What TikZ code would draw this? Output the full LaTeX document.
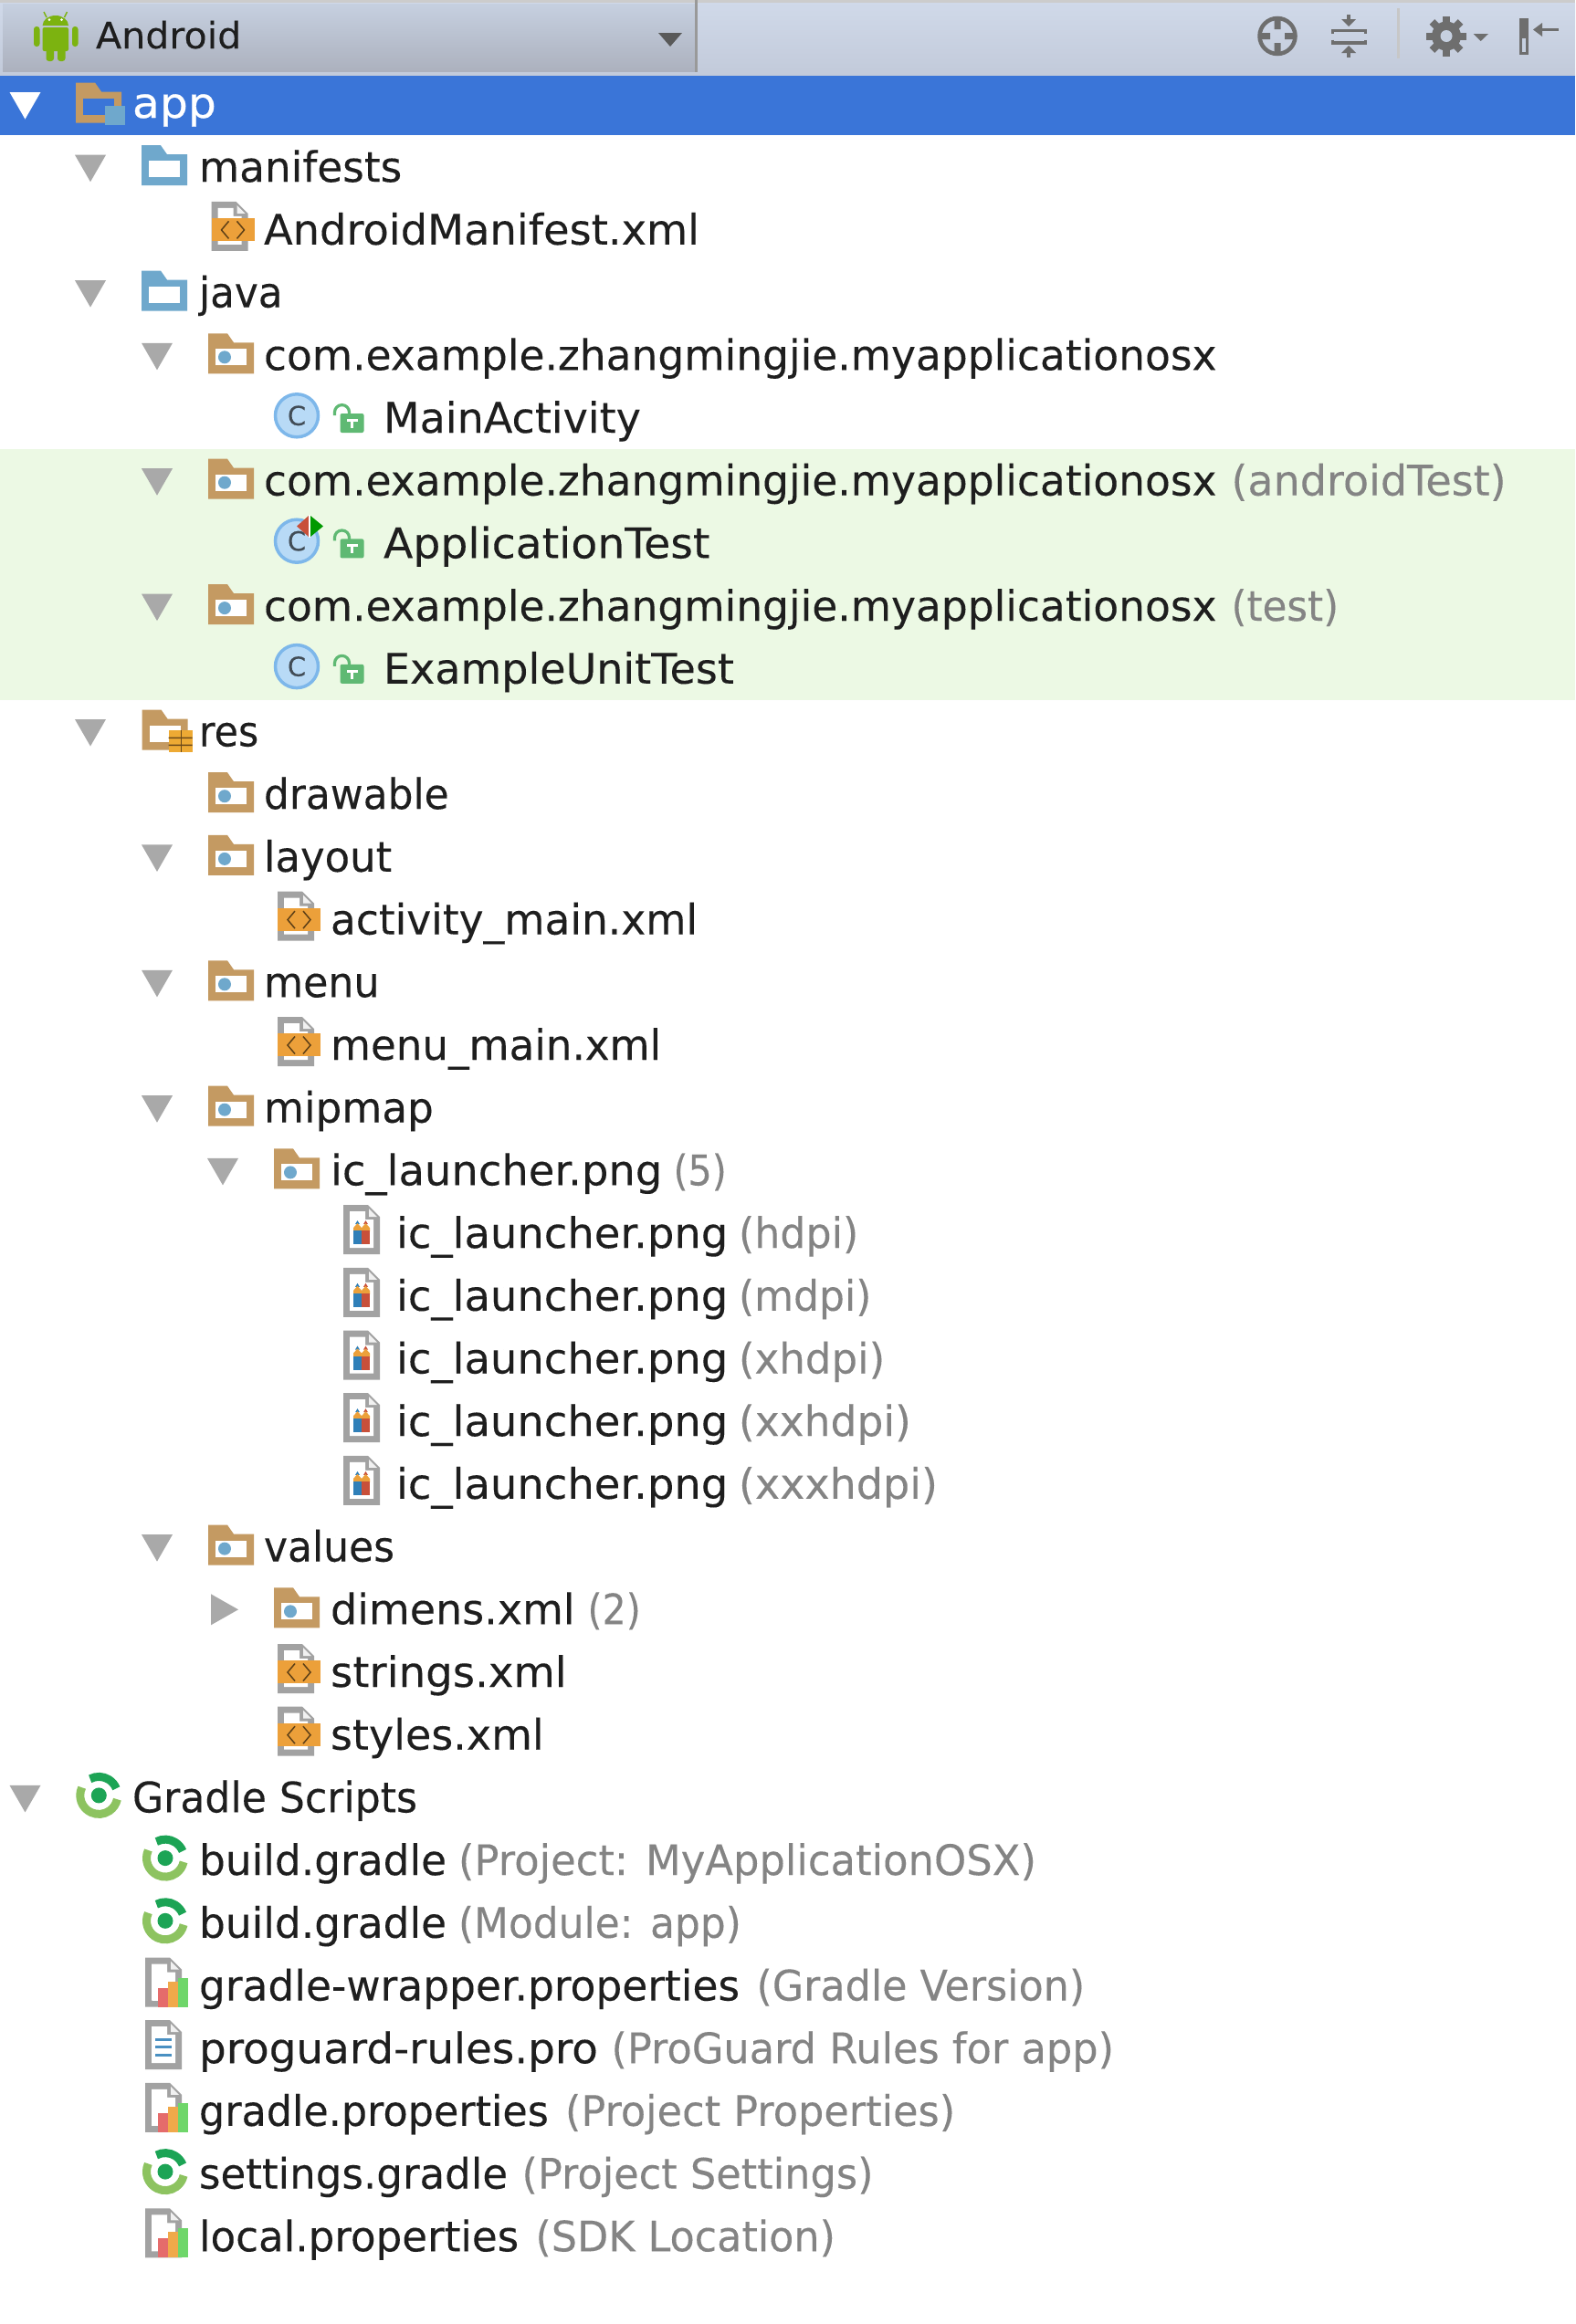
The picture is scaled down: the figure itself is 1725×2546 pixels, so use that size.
\documentclass[tikz,border=0pt]{standalone}
\usepackage{graphicx}
\usepackage{fontspec}
\setmainfont{DejaVu Sans}[FakeBold=0.12]
\newfontfamily\selfont{DejaVu Sans}[FakeBold=0.5]
\definecolor{tritone}{HTML}{A9A9A9}
\definecolor{selblue}{HTML}{3A75D8}
\definecolor{band}{HTML}{ECF9E4}
\definecolor{folderbrown}{HTML}{C49A62}
\definecolor{folderblue}{HTML}{6FA8CC}
\definecolor{inktext}{HTML}{1E1E1E}
\definecolor{annot}{HTML}{848484}
\definecolor{filegray}{HTML}{A2A2A2}
\definecolor{xmlorange}{HTML}{ECA03A}
\definecolor{classfill}{HTML}{B8DAF6}
\definecolor{classedge}{HTML}{7DB7EA}
\definecolor{lockgreen}{HTML}{5FB973}
\definecolor{gradledark}{HTML}{1CA455}
\definecolor{gradlelight}{HTML}{8DC360}
\definecolor{droidgreen}{HTML}{7CB310}
\definecolor{toolgray}{HTML}{6E6E6E}
\definecolor{combotop}{HTML}{C6D0E0}
\definecolor{combobot}{HTML}{ACB1BE}
\definecolor{bartop}{HTML}{D0D9E9}
\definecolor{barbot}{HTML}{C2CADA}
\definecolor{pencilblue}{HTML}{2F7FB8}
\definecolor{pencilred}{HTML}{C8503A}
\definecolor{barred}{HTML}{E56B6B}
\definecolor{barorange}{HTML}{F0A94A}
\definecolor{bargreen}{HTML}{6FD66A}
\definecolor{doclines}{HTML}{4A90C2}
\tikzset{
  rowlabel/.style={anchor=base west,inner sep=0pt,outer sep=0pt,text=inktext,font=\fontsize{46}{50}\selectfont},
  rownote/.style={rowlabel,text=annot},
  toolline/.style={draw=toolgray,line width=3.4pt},
}
\newcommand\lbl[5][1]{\node[rowlabel] (#2) at (#3,{114.5+68.7*#4+16}) {\scalebox{#1}[1]{#5}};}
\newcommand\note[5][1]{\node[rownote] (#2) at ({#3-1.5},{114.5+68.7*#4+16}) {\scalebox{#1}[1]{#5}};}
\newcommand\tri[3][tritone]{\fill[#1] ({#2-17},{114.5+68.7*#3-13.5}) -- ({#2+17},{114.5+68.7*#3-13.5}) -- (#2,{114.5+68.7*#3+16}) -- cycle;}
\newcommand\foldershape[1]{%
  \fill[#1] (0,-24) -- (21,-24) -- (28,-14) -- (50,-14) -- (50,20) -- (0,20) -- cycle;
  \fill[white] (8,-7) rectangle (42,11);}
\newcommand\pkg[2]{\begin{scope}[shift={(#1,{114.5+68.7*#2})}]
  \foldershape{folderbrown}
  \fill[folderblue] (18,2) circle[radius=7pt];
\end{scope}}
\newcommand\bluefolder[2]{\begin{scope}[shift={(#1,{114.5+68.7*#2})}]
  \foldershape{folderblue}
\end{scope}}
\newcommand\fileframe{%
  \fill[filegray] (0,-31) -- (27,-31) -- (40,-18) -- (40,23) -- (0,23) -- cycle;
  \fill[white] (7,-24) -- (24,-24) -- (24,-15) -- (33,-15) -- (33,16) -- (7,16) -- cycle;
  \fill[white!85!filegray] (28,-27) -- (37,-18) -- (28,-18) -- cycle;}
\newcommand\xmlfile[2]{\begin{scope}[shift={(#1,{114.5+68.7*#2})}]
  \fileframe
  \fill[xmlorange] (0,-13) rectangle (47,12);
  \draw[line width=1.5pt,color=black!60!xmlorange] (19,-9.5) -- (11,0) -- (19,9.5) (28,-9.5) -- (36,0) -- (28,9.5);
\end{scope}}
\newcommand\pngfile[2]{\begin{scope}[shift={(#1,{114.5+68.7*#2})}]
  \fileframe
  \fill[pencilblue] (15.5,-14) -- (13,-10) -- (18,-10) -- cycle;
  \fill[pencilred] (24.5,-14) -- (22,-10) -- (27,-10) -- cycle;
  \fill[xmlorange] (11,-2) -- (11,-6) -- (15.5,-11) -- (20,-6) -- (24.5,-11) -- (29,-6) -- (29,-2) -- cycle;
  \fill[pencilblue] (11,-3) rectangle (20,12);
  \fill[pencilred] (20,-3) rectangle (29,12);
\end{scope}}
\newcommand\propfile[2]{\begin{scope}[shift={(#1,{114.5+68.7*#2})}]
  \fileframe
  \fill[white] (8,-3) rectangle (14,16);
  \fill[barred] (14,2) rectangle (25,23);
  \fill[barorange] (25,-5) rectangle (36,23);
  \fill[bargreen] (36,-9) rectangle (47,23);
\end{scope}}
\newcommand\docfile[2]{\begin{scope}[shift={(#1,{114.5+68.7*#2})}]
  \fileframe
  \fill[doclines] (11,-11) rectangle (29,-8);
  \fill[doclines] (11,-3) rectangle (29,0);
  \fill[doclines] (11,5.5) rectangle (29,8.5);
\end{scope}}
\newcommand\lockmark{%
  \draw[lockgreen,line width=3.2pt] (0,10) -- (0,6.6) arc[start angle=180,end angle=0,radius=8pt] -- (16,10);
  \fill[lockgreen,rounded corners=2pt] (6,8) rectangle (32,29);
  \fill[white] (13,14) rectangle (25,17);
  \fill[white] (17.5,14) rectangle (20.5,24);}
\newcommand\classicon[2]{\begin{scope}[shift={(325,{114.5+68.7*#2-2.7})}]
  \filldraw[fill=classfill,draw=classedge,line width=3.5pt] (0,0) circle[radius=23.5pt];
  \node[inner sep=0pt,text=black!65!classfill,font=\fontsize{29}{31}\selectfont] (#1) at (0,0) {C};
\end{scope}
\begin{scope}[shift={(366.5,{114.5+68.7*#2-13})}]
  \lockmark
\end{scope}}
\newcommand\gradleicon[2]{\begin{scope}[shift={(#1,{114.5+68.7*#2-2.5})}]
  \draw[gradlelight,line width=9pt] (155:20.5pt) arc[start angle=155,end angle=348,radius=20.5pt];
  \draw[gradledark,line width=9pt] (118:20.5pt) arc[start angle=118,end angle=22,radius=20.5pt];
  \fill[gradledark] (0,0) circle[radius=8.5pt];
\end{scope}}
\begin{document}
\begin{tikzpicture}[x=1pt,y=-1pt]
\useasboundingbox (0,0) rectangle (1725,2546);
\fill[white] (0,0) rectangle (1725,2546);
% toolbar
\shade[top color=bartop,bottom color=barbot] (0,3) rectangle (1725,83);
\fill[black!20] (0,0) rectangle (1725,3);
\shade[top color=combotop,bottom color=combobot] (3,4) rectangle (762,78);
\fill[black!40] (761,0) rectangle (764,79);
% android
\fill[droidgreen] (46.6,28) arc[start angle=180,end angle=0,x radius=14.2pt,y radius=11pt] -- cycle;
\draw[droidgreen,line width=1.4pt] (51,19) -- (48,13) (70.5,19) -- (73.5,13);
\fill[white] (54,21.5) circle[radius=1.5pt] (67.5,21.5) circle[radius=1.5pt];
\fill[droidgreen,rounded corners=2pt] (46.6,30) rectangle (75,56);
\fill[droidgreen,rounded corners=3pt] (37,29) rectangle (43.5,51);
\fill[droidgreen,rounded corners=3pt] (79,29) rectangle (85.5,51);
\fill[droidgreen,rounded corners=3pt] (50.5,50) rectangle (59,67);
\fill[droidgreen,rounded corners=3pt] (63,50) rectangle (71.5,67);
\node[rowlabel,font=\fontsize{40}{44}\selectfont] (viewlabel) at (105,53) {\scalebox{1.03}[1]{Android}};
\fill[black!65] (721,36) -- (747,36) -- (734,51) -- cycle;
% target icon
\draw[toolgray,line width=4.5pt] (1399,39.5) circle[radius=19.5pt];
\fill[toolgray] (1395.5,20) rectangle (1402.5,32) (1395.5,47) rectangle (1402.5,59) (1379,36) rectangle (1391,43) (1407,36) rectangle (1419,43);
% collapse icon
\draw[toolline] (1459.5,37) -- (1459.5,33.5) -- (1495.5,33.5) -- (1495.5,37);
\draw[toolline] (1459.5,43.5) -- (1459.5,47) -- (1495.5,47) -- (1495.5,43.5);
\draw[toolline] (1477,16) -- (1477,23);
\draw[toolline] (1477,56) -- (1477,63);
\fill[toolgray] (1469,21) -- (1485,21) -- (1477,29) -- cycle;
\fill[toolgray] (1469,58) -- (1485,58) -- (1477,50) -- cycle;
% separator
\fill[black!22] (1530,9) rectangle (1533,64);
% gear
\foreach \a in {0,45,...,315}{\fill[toolgray,rotate around={\a:(1584,39.5)}] (1580,17.5) rectangle (1588,30);}
\fill[toolgray] (1584,39.5) circle[radius=16pt];
\fill[combotop] (1584,39.5) circle[radius=6.5pt];
\fill[toolgray] (1613.5,37) -- (1630,37) -- (1621.7,45) -- cycle;
% hide icon
\fill[toolgray] (1664,20) rectangle (1674,60);
\fill[combotop] (1667,42) rectangle (1671,57);
\draw[toolline] (1707,32.5) -- (1685,32.5);
\fill[toolgray] (1679,32.5) -- (1689,25) -- (1689,40) -- cycle;
% selection and test band
\fill[selblue] (0,83) rectangle (1725,148);
\fill[band] (0,492) rectangle (1725,767);
% row 0 app
\tri[white]{27.5}{0}
\begin{scope}[shift={(83,114.5)}]
  \fill[folderbrown] (0,-24) -- (21,-24) -- (28,-14) -- (50,-14) -- (50,20) -- (0,20) -- cycle;
  \fill[selblue] (8,-7) rectangle (42,11);
  \fill[folderblue] (32,1) rectangle (54,22);
\end{scope}
\node[rowlabel,text=white] (app) at (145,129) {\selfont\scalebox{1.06}[1]{app}};
% manifests
\tri{99}{1}\bluefolder{155}{1}\lbl[.986]{manifests}{218}{1}{manifests}
\xmlfile{231.5}{2}\lbl[1.007]{manifest}{289}{2}{AndroidManifest.xml}
% java
\tri{99}{3}\bluefolder{155}{3}\lbl[.95]{java}{218}{3}{java}
\tri{172}{4}\pkg{228}{4}\lbl[.989]{pkgmain}{289}{4}{com.example.zhangmingjie.myapplicationosx}
\classicon{cmain}{5}\lbl{mainact}{420}{5}{MainActivity}
\tri{172}{6}\pkg{228}{6}\lbl[.989]{pkgandroid}{289}{6}{com.example.zhangmingjie.myapplicationosx}\note{noteandroid}{1350}{6}{(androidTest)}
\classicon{capp}{7}\lbl[1.028]{apptest}{420}{7}{ApplicationTest}
\fill[pencilred] (338,565) -- (338,588) -- (325,576.5) -- cycle;
\fill[white] (338,564) rectangle (340,589);
\fill[green!60!black] (340,565) -- (340,588) -- (354,576.5) -- cycle;
\tri{172}{8}\pkg{228}{8}\lbl[.989]{pkgtest}{289}{8}{com.example.zhangmingjie.myapplicationosx}\note[.947]{notetest}{1350}{8}{(test)}
\classicon{cunit}{9}\lbl{unittest}{420}{9}{ExampleUnitTest}
% res
\tri{99}{10}
\begin{scope}[shift={(155.5,801.5)}]
  \foldershape{folderbrown}
  \fill[xmlorange!90!yellow] (29,-2) rectangle (55,22.5);
  \fill[black!55!xmlorange] (29,6) rectangle (55,7.5) (29,14) rectangle (55,15.5);
  \fill[black!55!xmlorange] (42,-2) rectangle (43,22.5);
\end{scope}
\lbl[.93]{res}{218}{10}{res}
\pkg{228}{11}\lbl[.954]{drawable}{289}{11}{drawable}
\tri{172}{12}\pkg{228}{12}\lbl[.977]{layout}{289}{12}{layout}
\xmlfile{304}{13}\lbl[.988]{activity}{362}{13}{activity\_main.xml}
\tri{172}{14}\pkg{228}{14}\lbl[.963]{menu}{289}{14}{menu}
\xmlfile{304}{15}\lbl[.982]{menumain}{362}{15}{menu\_main.xml}
\tri{172}{16}\pkg{228}{16}\lbl[.983]{mipmap}{289}{16}{mipmap}
\tri{244}{17}\pkg{300}{17}\lbl[1.009]{iclauncher}{362}{17}{ic\_launcher.png}\note[.895]{notefive}{739}{17}{(5)}
\pngfile{376}{18}\lbl[1.009]{ich}{434}{18}{ic\_launcher.png}\note[.963]{noteh}{810.5}{18}{(hdpi)}
\pngfile{376}{19}\lbl[1.009]{icm}{434}{19}{ic\_launcher.png}\note[.957]{notem}{810.5}{19}{(mdpi)}
\pngfile{376}{20}\lbl[1.009]{icx}{434}{20}{ic\_launcher.png}\note[.98]{notex}{810.5}{20}{(xhdpi)}
\pngfile{376}{21}\lbl[1.009]{icxx}{434}{21}{ic\_launcher.png}\note[.99]{notexx}{810.5}{21}{(xxhdpi)}
\pngfile{376}{22}\lbl[1.009]{icxxx}{434}{22}{ic\_launcher.png}\note{notexxx}{810.5}{22}{(xxxhdpi)}
\tri{172}{23}\pkg{228}{23}\lbl[.956]{values}{289}{23}{values}
\fill[tritone] (231,{114.5+68.7*24-17}) -- (231,{114.5+68.7*24+17}) -- (261,{114.5+68.7*24}) -- cycle;
\pkg{300}{24}\lbl{dimens}{362}{24}{dimens.xml}\note[.895]{notetwo}{645}{24}{(2)}
\xmlfile{304}{25}\lbl[1.013]{strings}{362}{25}{strings.xml}
\xmlfile{304}{26}\lbl{styles}{362}{26}{styles.xml}
% gradle
\tri{27.5}{27}\gradleicon{108.3}{27}\lbl[.96]{gradle}{145}{27}{Gradle Scripts}
\gradleicon{181}{28}\lbl[.988]{buildp}{218}{28}{build.gradle}\note[.975]{notebp}{503.5}{28}{(Project: MyApplicationOSX)}
\gradleicon{181}{29}\lbl[.988]{buildm}{218}{29}{build.gradle}\note[.954]{notebm}{503.5}{29}{(Module: app)}
\propfile{159}{30}\lbl[.989]{wrapper}{218}{30}{gradle-wrapper.properties}\note[.965]{notewr}{830}{30}{(Gradle Version)}
\docfile{159}{31}\lbl[1.019]{proguard}{218}{31}{proguard-rules.pro}\note[.971]{notepg}{671}{31}{(ProGuard Rules for app)}
\propfile{159}{32}\lbl[.967]{gprops}{218}{32}{gradle.properties}\note[.97]{notegp}{620.5}{32}{(Project Properties)}
\gradleicon{181}{33}\lbl[.981]{settings}{218}{33}{settings.gradle}\note[.971]{notest}{573}{33}{(Project Settings)}
\propfile{159}{34}\lbl[.982]{local}{218}{34}{local.properties}\note[.966]{notelc}{588}{34}{(SDK Location)}
\end{tikzpicture}
\end{document}
